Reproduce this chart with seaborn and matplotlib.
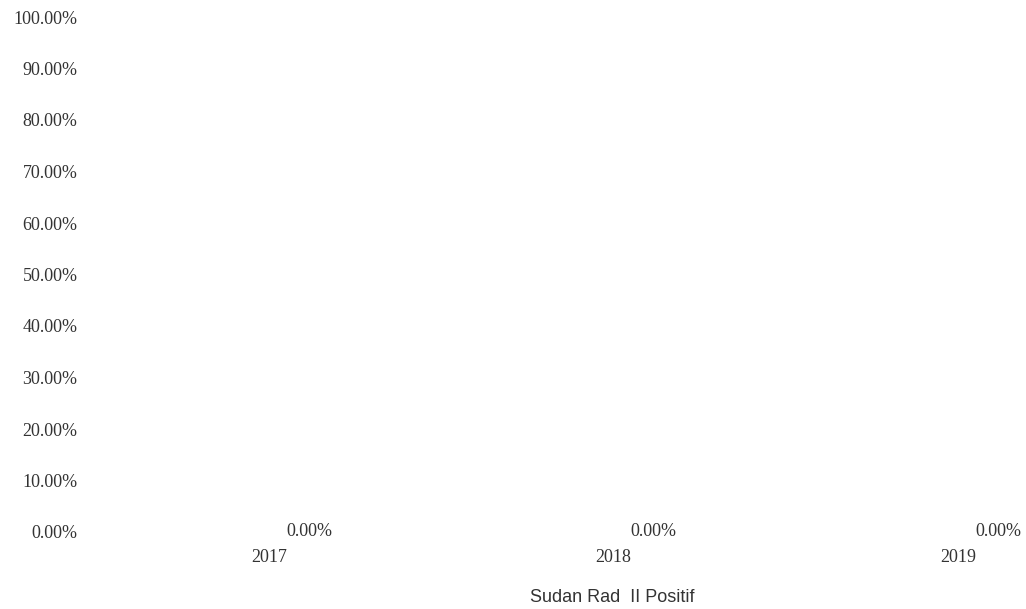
import matplotlib
matplotlib.use("Agg")
import matplotlib.pyplot as plt
from matplotlib.ticker import FuncFormatter, MultipleLocator
import seaborn as sns
import pandas as pd

# Data
years = ["2017", "2018", "2019"]
values = [0.0, 0.0, 0.0]
series_name = "Sudan Rad  II Positif"

df = pd.DataFrame({"year": years, "value": values})

sns.set_theme(style="white")
plt.rcParams["font.family"] = ["Liberation Serif", "DejaVu Serif"]

fig = plt.figure(figsize=(10.26, 6.09), dpi=100)
ax = fig.add_axes([90 / 1026, 1 - 532 / 609, 920 / 1026, 515 / 609])

sns.barplot(data=df, x="year", y="value", color="#4472C4", width=0.5, ax=ax, legend=False)

ax.set_ylim(0, 1.0)
ax.set_xlim(-0.52, 2.151)
ax.yaxis.set_major_locator(MultipleLocator(0.1))
ax.yaxis.set_major_formatter(FuncFormatter(lambda v, _: f"{v * 100:.2f}%"))

text_color = "#333333"
ax.tick_params(axis="both", length=0, colors=text_color, labelsize=13)
ax.tick_params(axis="y", pad=9)
ax.tick_params(axis="x", pad=12)
for s in ax.spines.values():
    s.set_visible(False)
ax.set_xlabel("")
ax.set_ylabel("")
ax.grid(False)

# Value labels next to each bar
for i, v in enumerate(values):
    ax.annotate(f"{v * 100:.2f}%", xy=(i, v), xytext=(40, 0),
                textcoords="offset pixels", ha="center", va="center",
                fontsize=13, color=text_color)

fig.text(612 / 1026, 1 - 597 / 609, series_name, ha="center", va="center",
         fontsize=13, color=text_color, family=["Liberation Sans", "DejaVu Sans"])

fig.savefig("out.png", dpi=100)
